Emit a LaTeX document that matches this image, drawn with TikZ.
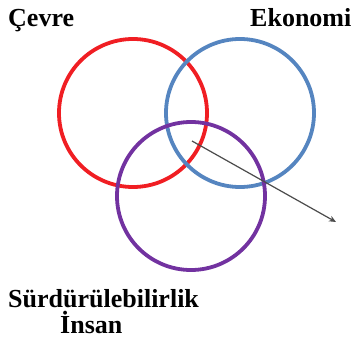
\documentclass[tikz,border=0pt]{standalone}
\usepackage{fontspec}
\setmainfont{LiberationSerif}[Extension=.ttf, UprightFont=*-Regular, BoldFont=*-Bold]
\usetikzlibrary{arrows.meta}
\definecolor{ringred}{HTML}{F01E23}
\definecolor{ringblue}{HTML}{5585C0}
\definecolor{ringpurple}{HTML}{7232A0}
\begin{document}
\begin{tikzpicture}[>=stealth, x=1pt, y=-1pt,
    ring/.style={line width=3.8pt},
    label/.style={font=\fontsize{26}{28}\selectfont\bfseries, inner sep=0pt, anchor=base west}]
    \def\R{74}
    \useasboundingbox (0,0) rectangle (352,345);
    % Rings
    \draw[ring, ringred] (133,113) circle (\R);
    \draw[ring, ringblue] (240,113) circle (\R);
    \draw[ring, ringpurple] (191,196) circle (\R);
    % Arrow
    \coordinate (start) at (192,141);
    \coordinate (tip) at (336,222);
    \draw[-{Stealth[length=7pt,width=6pt]}, line width=1.2pt, black!70] (start) -- (tip);
    % Labels
    \node[label] (cevre) at (8,27) {Çevre};
    \node[label] (ekonomi) at (250,27) {Ekonomi};
    \node[label] (surd) at (8,307) {Sürdürülebilirlik};
    \node[label] (insan) at (60,333) {İnsan};
\end{tikzpicture}
\end{document}
